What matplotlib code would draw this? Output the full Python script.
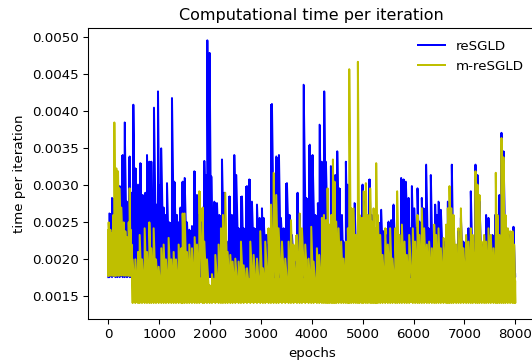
import numpy as np
import matplotlib
matplotlib.use("Agg")
import matplotlib.pyplot as plt

# upper edge of each curve (epoch, time per iteration)
blue_epochs = [
    0, 20, 72, 138, 177, 223, 282, 321, 367, 419,
    452, 491, 530, 583, 629, 675, 727, 760, 806, 845,
    871, 897, 943, 976, 1009, 1040, 1087, 1120, 1153, 1198,
    1251, 1297, 1349, 1382, 1415, 1461, 1500, 1546, 1592, 1644,
    1690, 1742, 1788, 1840, 1887, 1926, 1946, 1968, 1991, 2024,
    2050, 2083, 2136, 2181, 2234, 2280, 2332, 2384, 2430, 2476,
    2515, 2561, 2627, 2660, 2725, 2771, 2823, 2869, 2922, 2974,
    3020, 3053, 3105, 3151, 3216, 3262, 3301, 3354, 3393, 3446,
    3511, 3563, 3609, 3662, 3721, 3760, 3806, 3839, 3891, 3960,
    4015, 4068, 4120, 4153, 4199, 4244, 4277, 4330, 4375, 4415,
    4461, 4500, 4539, 4592, 4624, 4670, 4709, 4755, 4801, 4840,
    4886, 4932, 4998, 5037, 5083, 5135, 5181, 5247, 5299, 5364,
    5410, 5456, 5509, 5561, 5607, 5653, 5705, 5757, 5803, 5849,
    5902, 5934, 5967, 6013, 6052, 6078, 6117, 6163, 6196, 6248,
    6294, 6340, 6379, 6425, 6458, 6491, 6537, 6589, 6635, 6674,
    6720, 6753, 6786, 6831, 6884, 6930, 6982, 7034, 7080, 7126,
    7165, 7218, 7257, 7296, 7342, 7388, 7427, 7473, 7506, 7552,
    7604, 7650, 7689, 7729, 7768, 7814, 7866, 7912, 7965, 7997,
]
blue_top = [
    0.00220, 0.00262, 0.00283, 0.00253, 0.00242, 0.00299, 0.00341, 0.00385, 0.00278, 0.00339,
    0.00290, 0.00409, 0.00323, 0.00301, 0.00330, 0.00287, 0.00290, 0.00341, 0.00332, 0.00332,
    0.00280, 0.00405, 0.00274, 0.00427, 0.00300, 0.00350, 0.00270, 0.00260, 0.00303, 0.00250,
    0.00418, 0.00305, 0.00260, 0.00250, 0.00270, 0.00305, 0.00310, 0.00250, 0.00240, 0.00245,
    0.00319, 0.00287, 0.00260, 0.00250, 0.00333, 0.00314, 0.00496, 0.00300, 0.00479, 0.00312,
    0.00215, 0.00278, 0.00276, 0.00260, 0.00335, 0.00290, 0.00224, 0.00285, 0.00260, 0.00341,
    0.00314, 0.00242, 0.00285, 0.00242, 0.00299, 0.00308, 0.00278, 0.00242, 0.00274, 0.00256,
    0.00269, 0.00256, 0.00233, 0.00220, 0.00410, 0.00224, 0.00339, 0.00341, 0.00256, 0.00242,
    0.00303, 0.00260, 0.00233, 0.00197, 0.00290, 0.00260, 0.00220, 0.00436, 0.00283, 0.00355,
    0.00341, 0.00260, 0.00276, 0.00382, 0.00332, 0.00427, 0.00332, 0.00233, 0.00326, 0.00305,
    0.00314, 0.00346, 0.00296, 0.00260, 0.00224, 0.00332, 0.00301, 0.00242, 0.00220, 0.00276,
    0.00224, 0.00197, 0.00301, 0.00278, 0.00242, 0.00308, 0.00260, 0.00233, 0.00251, 0.00267,
    0.00238, 0.00233, 0.00251, 0.00253, 0.00274, 0.00233, 0.00206, 0.00310, 0.00308, 0.00305,
    0.00283, 0.00242, 0.00299, 0.00269, 0.00242, 0.00296, 0.00251, 0.00283, 0.00269, 0.00328,
    0.00242, 0.00314, 0.00201, 0.00274, 0.00260, 0.00278, 0.00267, 0.00224, 0.00220, 0.00278,
    0.00242, 0.00328, 0.00242, 0.00201, 0.00238, 0.00256, 0.00224, 0.00201, 0.00242, 0.00292,
    0.00224, 0.00328, 0.00314, 0.00278, 0.00220, 0.00224, 0.00260, 0.00256, 0.00197, 0.00233,
    0.00260, 0.00197, 0.00287, 0.00371, 0.00346, 0.00242, 0.00233, 0.00233, 0.00244, 0.00180,
]

yellow_epochs = [
    0, 6, 39, 72, 98, 118, 138, 157, 190, 216,
    255, 301, 334, 367, 400, 419, 439, 458, 478, 530,
    583, 616, 662, 714, 760, 806, 845, 891, 937, 989,
    1041, 1087, 1133, 1185, 1238, 1284, 1330, 1382, 1434, 1461,
    1500, 1546, 1592, 1644, 1697, 1742, 1788, 1854, 1887, 1939,
    1991, 2037, 2103, 2168, 2214, 2253, 2299, 2345, 2398, 2443,
    2496, 2561, 2607, 2660, 2725, 2791, 2856, 2922, 2987, 3039,
    3085, 3151, 3197, 3249, 3301, 3347, 3413, 3478, 3544, 3590,
    3642, 3708, 3760, 3806, 3871, 3937, 3989, 4035, 4100, 4146,
    4199, 4238, 4277, 4310, 4343, 4382, 4415, 4447, 4480, 4526,
    4578, 4624, 4670, 4709, 4736, 4775, 4821, 4867, 4906, 4939,
    4985, 5017, 5063, 5102, 5148, 5181, 5214, 5247, 5266, 5299,
    5345, 5391, 5443, 5495, 5541, 5587, 5640, 5679, 5725, 5771,
    5823, 5869, 5915, 5986, 6032, 6078, 6117, 6163, 6209, 6262,
    6307, 6360, 6406, 6445, 6491, 6537, 6589, 6641, 6674, 6707,
    6746, 6786, 6838, 6884, 6930, 6982, 7034, 7080, 7126, 7165,
    7218, 7257, 7296, 7342, 7388, 7427, 7473, 7519, 7572, 7617,
    7650, 7689, 7729, 7768, 7807, 7853, 7899, 7945, 7978, 8000,
]
yellow_top = [
    0.00240, 0.00250, 0.00240, 0.00235, 0.00260, 0.00385, 0.00300, 0.00323, 0.00319, 0.00296,
    0.00270, 0.00250, 0.00238, 0.00230, 0.00250, 0.00296, 0.00240, 0.00220, 0.00200, 0.00200,
    0.00210, 0.00233, 0.00200, 0.00242, 0.00210, 0.00250, 0.00215, 0.00242, 0.00200, 0.00190,
    0.00215, 0.00220, 0.00200, 0.00229, 0.00200, 0.00210, 0.00200, 0.00220, 0.00215, 0.00262,
    0.00262, 0.00210, 0.00220, 0.00215, 0.00230, 0.00220, 0.00292, 0.00270, 0.00224, 0.00200,
    0.00165, 0.00180, 0.00206, 0.00220, 0.00242, 0.00260, 0.00290, 0.00210, 0.00206, 0.00197,
    0.00201, 0.00197, 0.00224, 0.00192, 0.00188, 0.00224, 0.00206, 0.00201, 0.00238, 0.00188,
    0.00224, 0.00242, 0.00274, 0.00317, 0.00287, 0.00242, 0.00224, 0.00201, 0.00224, 0.00253,
    0.00220, 0.00233, 0.00262, 0.00242, 0.00220, 0.00201, 0.00244, 0.00197, 0.00215, 0.00206,
    0.00256, 0.00260, 0.00253, 0.00296, 0.00247, 0.00260, 0.00335, 0.00305, 0.00251, 0.00242,
    0.00224, 0.00201, 0.00224, 0.00242, 0.00457, 0.00269, 0.00269, 0.00233, 0.00467, 0.00260,
    0.00256, 0.00292, 0.00303, 0.00260, 0.00296, 0.00251, 0.00269, 0.00242, 0.00330, 0.00260,
    0.00233, 0.00206, 0.00242, 0.00220, 0.00242, 0.00201, 0.00242, 0.00292, 0.00233, 0.00247,
    0.00224, 0.00206, 0.00233, 0.00242, 0.00224, 0.00260, 0.00233, 0.00269, 0.00242, 0.00220,
    0.00224, 0.00215, 0.00247, 0.00233, 0.00242, 0.00215, 0.00229, 0.00247, 0.00269, 0.00299,
    0.00269, 0.00260, 0.00220, 0.00242, 0.00269, 0.00215, 0.00233, 0.00224, 0.00242, 0.00233,
    0.00319, 0.00301, 0.00287, 0.00224, 0.00233, 0.00224, 0.00242, 0.00233, 0.00215, 0.00317,
    0.00260, 0.00233, 0.00364, 0.00338, 0.00260, 0.00242, 0.00238, 0.00238, 0.00220, 0.00170,
]

# lower edge (floor) of each curve
blue_floor = 0.00176
yellow_floor_early = 0.00178  # before the drop
yellow_floor = 0.00141
yellow_drop_epoch = 470


def zigzag(epochs, tops, lows):
    # the series jumps between its floor and its peaks every step
    x = np.repeat(np.asarray(epochs), 2)
    y = np.column_stack([lows, tops]).ravel()
    return x, y


blue_e = np.array(blue_epochs)
yellow_e = np.array(yellow_epochs)
blue_low = np.full(len(blue_e), blue_floor)
yellow_low = np.where(yellow_e < yellow_drop_epoch, yellow_floor_early, yellow_floor)

bx, by = zigzag(blue_e, blue_top, blue_low)
yx, yy = zigzag(yellow_e, yellow_top, yellow_low)

fig = plt.figure(figsize=(532 / 96, 360 / 96), dpi=96)
ax = fig.add_axes([88 / 532, 41 / 360, 447.6 / 532, 291 / 360])

# dense oscillation looks like a solid band, so fill under the peaks too
ax.fill_between(blue_e, blue_low, blue_top, step="mid", color="b", lw=0)
ax.plot(bx, by, c="b", label="reSGLD")
ax.fill_between(yellow_e, yellow_low, yellow_top, step="mid", color="y", lw=0)
ax.plot(yx, yy, c="y", label="m-reSGLD")

ax.set_xlim(-400, 8400)
ax.set_ylim(0.001194, 0.005127)
ax.set_title("Computational time per iteration")
ax.set_xlabel("epochs")
ax.set_ylabel("time per iteration")
ax.legend(loc="upper right", frameon=False)

fig.savefig("out.png", dpi=96)
